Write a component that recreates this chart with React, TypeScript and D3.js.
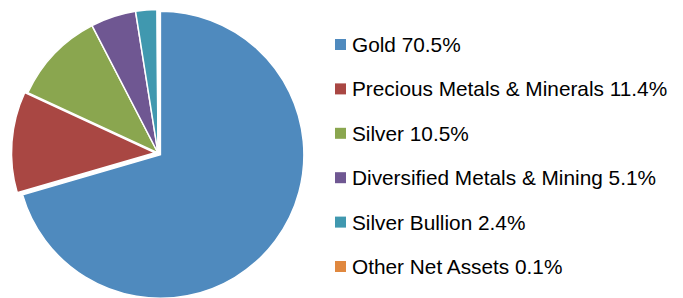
import React, { useEffect, useRef } from 'react';
import * as d3 from 'd3';

const labels = ['Gold', 'Precious Metals & Minerals', 'Silver', 'Diversified Metals & Mining', 'Silver Bullion', 'Other Net Assets'];
const values = [70.5, 11.4, 10.5, 5.1, 2.4, 0.1];
const colors = ['#4F8ABE', '#A94743', '#8AA64F', '#6F5792', '#4098AF', '#E0883F'];
// slices pulled slightly away from the centre
const explode = [3, 3, 0, 0, 0, 0];

const App = () => {
  const svgRef = useRef(null);

  useEffect(() => {
    const width = 683;
    const height = 298;
    const cx = 158;
    const cy = 153;
    const radius = 143.5;

    const svg = d3.select(svgRef.current);
    svg.selectAll('*').remove();
    svg.attr('width', width).attr('height', height);

    const data = labels.map((l, i) => ({ label: l, value: values[i], color: colors[i], off: explode[i] }));

    const pie = d3.pie<any>().sort(null).value(d => d.value);
    const arc = d3.arc<any>().innerRadius(0).outerRadius(radius);

    const g = svg.append('g').attr('transform', `translate(${cx},${cy})`);

    g.selectAll('path')
      .data(pie(data))
      .enter()
      .append('path')
      .attr('d', arc)
      .attr('fill', d => d.data.color)
      .attr('stroke', '#fff')
      .attr('stroke-width', 1.5)
      .attr('transform', d => {
        const mid = (d.startAngle + d.endAngle) / 2;
        const o = d.data.off;
        return `translate(${Math.sin(mid) * o},${-Math.cos(mid) * o})`;
      });

    // legend
    const legendY = d3.scaleLinear().domain([0, labels.length - 1]).range([44.5, 266.5]);
    const legend = svg.append('g');
    data.forEach((d, i) => {
      const row = legend.append('g').attr('transform', `translate(335,${legendY(i)})`);
      row.append('rect')
        .attr('x', 0)
        .attr('y', -5.5)
        .attr('width', 11)
        .attr('height', 11)
        .attr('fill', d.color);
      row.append('text')
        .attr('x', 17)
        .attr('y', 0)
        .attr('dy', '0.36em')
        .style('font-family', 'Liberation Sans, Arial, sans-serif')
        .style('font-size', '20.8px')
        .style('fill', '#000')
        .text(`${d.label} ${d.value.toFixed(1)}%`);
    });
  }, []);

  return (
    <div style={{ position: 'absolute', left: 0, top: 0 }}>
      <svg ref={svgRef} style={{ display: 'block' }}></svg>
    </div>
  );
};

export default App;
